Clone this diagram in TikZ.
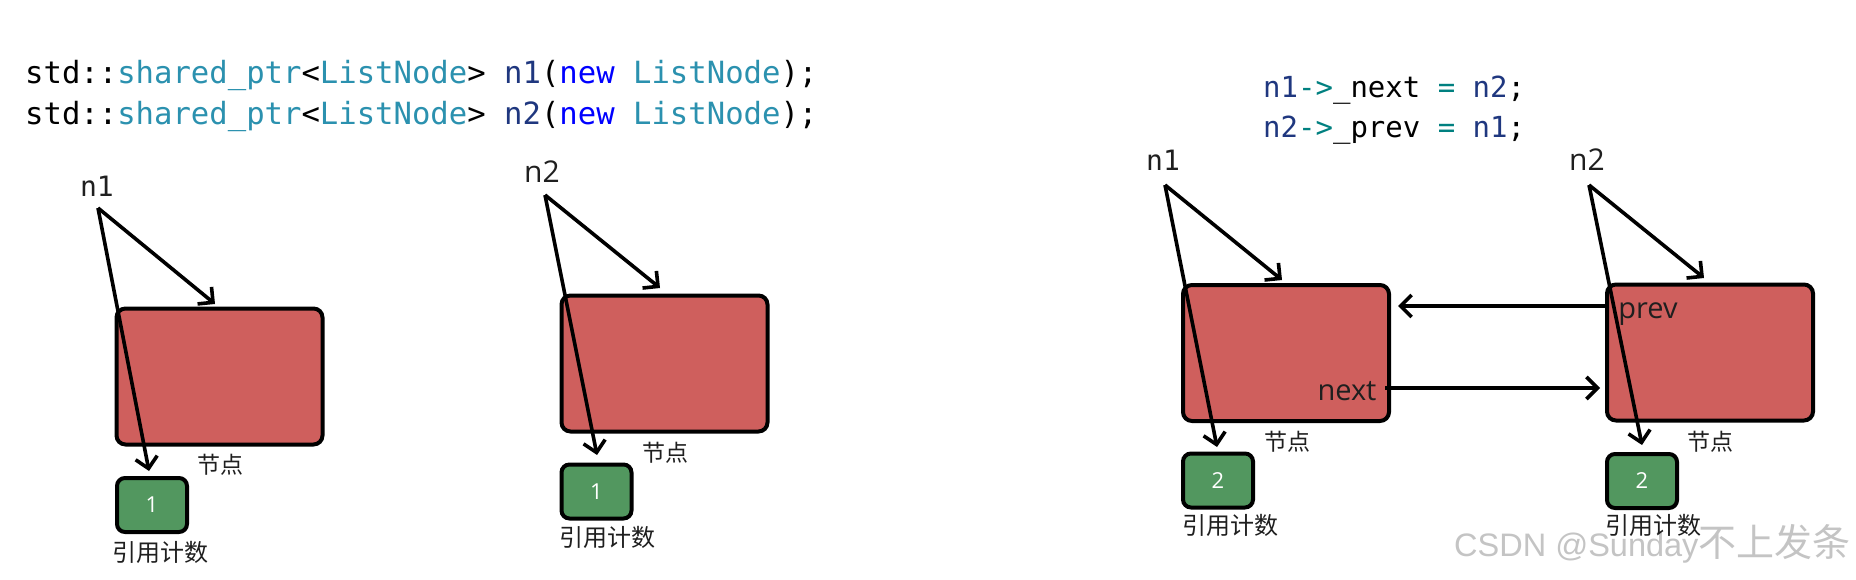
\documentclass[tikz,border=0pt]{standalone}
\usepackage{fontspec}
\usetikzlibrary{arrows.meta}
\newfontfamily\codefont{DejaVu Sans Mono}
\newfontfamily\uifont{Open Sans}
\newfontfamily\cjkfont{Noto Sans CJK SC}
\newfontfamily\wmfont{Liberation Sans}
\definecolor{kwteal}{HTML}{2B91AF}
\definecolor{kwnavy}{HTML}{1F377F}
\definecolor{kwblue}{HTML}{0000FF}
\definecolor{optl}{HTML}{008080}
\definecolor{nodered}{HTML}{CF5F5D}
\definecolor{cntgreen}{HTML}{52975F}
\definecolor{txtdark}{HTML}{1F1F1F}
\definecolor{wmgray}{HTML}{C4C4C4}
\begin{document}
\begin{tikzpicture}[x=1pt,y=-1pt,
  redbox/.style={draw=black, line width=4pt, fill=nodered, rounded corners=9pt,
    minimum width=206pt, minimum height=136pt, inner sep=0pt},
  greenbox/.style={draw=black, line width=4pt, fill=cntgreen, rounded corners=8pt,
    minimum width=70pt, minimum height=54pt, inner sep=0pt, text=white,
    font=\uifont\fontsize{22}{22}\selectfont},
  ptr/.style={draw=black, line width=3.6pt, -{Straight Barb[length=11pt,width=22pt,line width=3.6pt]}},
  codeline/.style={anchor=mid west, inner sep=0pt},
  monolbl/.style={inner sep=0pt, text=txtdark, font=\codefont\fontsize{28}{28}\selectfont},
  sanslbl/.style={inner sep=0pt, text=txtdark, font=\uifont\fontsize{30}{30}\selectfont},
  cjklbl/.style={inner sep=0pt, text=txtdark, font=\cjkfont\fontsize{23}{23}\selectfont},
  refcjk/.style={inner sep=0pt, text=txtdark, font=\cjkfont\fontsize{24}{24}\selectfont},
  fieldlbl/.style={inner sep=0pt, text=txtdark, font=\uifont\fontsize{29}{29}\selectfont}
]
\path[use as bounding box, fill=white] (0,0) rectangle (1856,580);

% watermark (behind)
\node[anchor=base west, inner sep=0pt, text=wmgray, font=\wmfont\fontsize{32.5}{32.5}\selectfont] (wm) at (1454,556)
  {CSDN @Sunday{\cjkfont\fontsize{38}{38}\selectfont 不上发条}};

% code, left
\node[codeline, font=\codefont\fontsize{30.6}{30.6}\selectfont] (codeA) at (25,81)
  {std::\textcolor{kwteal}{shared\_ptr}<\textcolor{kwteal}{ListNode}> \textcolor{kwnavy}{n1}(\textcolor{kwblue}{new} \textcolor{kwteal}{ListNode});};
\node[codeline, font=\codefont\fontsize{30.6}{30.6}\selectfont] (codeB) at (25,122)
  {std::\textcolor{kwteal}{shared\_ptr}<\textcolor{kwteal}{ListNode}> \textcolor{kwnavy}{n2}(\textcolor{kwblue}{new} \textcolor{kwteal}{ListNode});};
% code, right
\node[codeline, font=\codefont\fontsize{29}{29}\selectfont] (codeC) at (1263,95)
  {\textcolor{kwnavy}{n1}\textcolor{optl}{->}\_next \textcolor{optl}{=} \textcolor{kwnavy}{n2};};
\node[codeline, font=\codefont\fontsize{29}{29}\selectfont] (codeD) at (1263,135)
  {\textcolor{kwnavy}{n2}\textcolor{optl}{->}\_prev \textcolor{optl}{=} \textcolor{kwnavy}{n1};};

% ---------- group 1 ----------
\node[redbox] (box1) at (219.5,376.5) {};
\node[greenbox] (cnt1) at (152,505) {1};
\node[monolbl] (lblA) at (97,186) {n1};
\node[cjklbl] (nodeA) at (220,465) {节点};
\node[refcjk] (refA) at (160,552) {引用计数};
\coordinate (sA) at (98,208);
\coordinate (tA1) at (215,304);
\coordinate (tA2) at (149,471);
\draw[ptr] (sA) -- (tA1);
\draw[ptr] (sA) -- (tA2);

% ---------- group 2 ----------
\node[redbox] (box2) at (664.5,363.5) {};
\node[greenbox] (cnt2) at (596.5,491.5) {1};
\node[sanslbl] (lblB) at (542,172) {n2};
\node[cjklbl] (nodeB) at (665,453) {节点};
\node[refcjk] (refB) at (607,537) {引用计数};
\coordinate (sB) at (545,195);
\coordinate (tB1) at (660,288);
\coordinate (tB2) at (597,455);
\draw[ptr] (sB) -- (tB1);
\draw[ptr] (sB) -- (tB2);

% ---------- group 3 ----------
\node[redbox] (box3) at (1286,353) {};
\node[greenbox] (cnt3) at (1218,480.5) {2};
\node[monolbl] (lblC) at (1163,160) {n1};
\node[cjklbl] (nodeC) at (1287,442) {节点};
\node[refcjk] (refC) at (1230,525) {引用计数};
\node[fieldlbl] (nextC) at (1347,391) {next};
\coordinate (sC) at (1165,185);
\coordinate (tC1) at (1282,280);
\coordinate (tC2) at (1217,447);
\draw[ptr] (sC) -- (tC1);
\draw[ptr] (sC) -- (tC2);

% ---------- group 4 ----------
\node[redbox] (box4) at (1710,352.5) {};
\node[greenbox] (cnt4) at (1642,481) {2};
\node[sanslbl] (lblD) at (1587,160) {n2};
\node[cjklbl] (nodeD) at (1710,442) {节点};
\node[refcjk] (refD) at (1653,525) {引用计数};
\node[fieldlbl] (prevD) at (1648,314) {prev};
\coordinate (sD) at (1589,185);
\coordinate (tD1) at (1704,278);
\coordinate (tD2) at (1642,445);
\draw[ptr] (sD) -- (tD1);
\draw[ptr] (sD) -- (tD2);

% links between nodes
\coordinate (nextS) at (1385,388);
\coordinate (nextT) at (1600,388);
\coordinate (prevS) at (1609,306);
\coordinate (prevT) at (1398,306);
\draw[ptr] (nextS) -- (nextT);
\draw[ptr] (prevS) -- (prevT);
\end{tikzpicture}
\end{document}
